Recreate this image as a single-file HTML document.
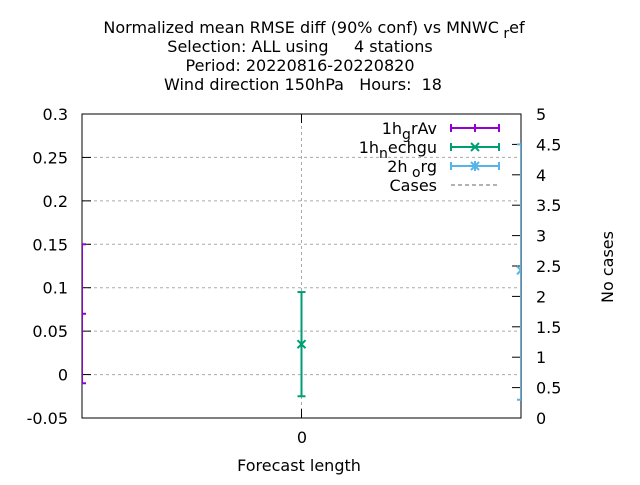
<!DOCTYPE html>
<html><head><meta charset="utf-8"><style>
body{margin:0;background:#fff}
text{font-family:"DejaVu Sans","Liberation Sans",sans-serif;font-size:16px;fill:#000}
</style></head><body>
<svg width="640" height="480">
<defs><clipPath id="pc"><rect x="82" y="114" width="439" height="304"/></clipPath></defs>
<g>
<text x="314" y="33" text-anchor="middle">Normalized mean RMSE diff (90% conf) vs MNWC<tspan dy="5" font-size="14"> r</tspan><tspan dy="-5">ef</tspan></text>
<text x="300" y="52" text-anchor="middle" xml:space="preserve">Selection: ALL using     4 stations</text>
<text x="300" y="71" text-anchor="middle">Period: 20220816-20220820</text>
<text x="303" y="90" text-anchor="middle" xml:space="preserve">Wind direction 150hPa   Hours:  18</text>
</g>
<g id="grid"></g>
<rect x="82" y="114" width="439" height="304" fill="none" stroke="#000"/>
<g id="axes"></g>
<g id="series" clip-path="url(#pc)"></g>
<text x="302" y="443" text-anchor="middle">0</text>
<text x="299" y="471" text-anchor="middle">Forecast length</text>
<text transform="translate(613,267) rotate(-90)" text-anchor="middle">No cases</text>
<g>
<text x="437" y="134" text-anchor="end">1h<tspan dy="5" font-size="14">g</tspan><tspan dy="-5">rAv</tspan></text>
<text x="437" y="153" text-anchor="end">1h<tspan dy="5" font-size="14">n</tspan><tspan dy="-5">echgu</tspan></text>
<text x="437" y="172" text-anchor="end">2h<tspan dy="5" font-size="14"> o</tspan><tspan dy="-5">rg</tspan></text>
<text x="437" y="191" text-anchor="end">Cases</text>
<g stroke="#9400d3" stroke-width="2"><line x1="451" y1="128" x2="499" y2="128"/><line x1="451" y1="124" x2="451" y2="132"/><line x1="499" y1="124" x2="499" y2="132"/><line x1="475" y1="124" x2="475" y2="132"/></g>
<g stroke="#009e73" stroke-width="2"><line x1="451" y1="147" x2="499" y2="147"/><line x1="451" y1="143" x2="451" y2="151"/><line x1="499" y1="143" x2="499" y2="151"/><path d="M471 143l8 8M479 143l-8 8"/></g>
<g stroke="#56b4e9" stroke-width="2"><line x1="451" y1="166" x2="499" y2="166"/><line x1="451" y1="162" x2="451" y2="170"/><line x1="499" y1="162" x2="499" y2="170"/><path d="M471 162l8 8M479 162l-8 8M475 161v10"/></g>
<line x1="451" y1="185" x2="499" y2="185" stroke="#999" stroke-dasharray="4,3" stroke-width="1.5"/>
</g>
</svg>
<script>
const yTicks=[-0.05,0,0.05,0.1,0.15,0.2,0.25,0.3];
const y2Ticks=[0,0.5,1,1.5,2,2.5,3,3.5,4,4.5,5];
const seriesNames=["1h_grAv","1h_nechgu","2h_org"];
const seriesX=[-1,0,1];
const seriesMean=[0.07,0.035,0.12];
const seriesLow=[-0.01,-0.025,-0.029];
const seriesHigh=[0.15,0.095,0.265];
const colors=["#9400d3","#009e73","#56b4e9"];
const NS="http://www.w3.org/2000/svg";
const X0=82,X1=521,Y0=418,Y1=114;
const xs=v=>X0+(v+1)/2*(X1-X0);
const ys=v=>Y0-(v+0.05)/0.35*(Y0-Y1);
const ys2=v=>Y0-v/5*(Y0-Y1);
function mk(t,a,p){const e=document.createElementNS(NS,t);for(const k in a)e.setAttribute(k,a[k]);p.appendChild(e);return e;}
const grid=document.getElementById('grid'),axes=document.getElementById('axes'),ser=document.getElementById('series');
yTicks.forEach(v=>{const y=ys(v);
 const g=mk('line',{x1:X0,x2:X1,y1:y,y2:y,stroke:'#aaa','stroke-dasharray':'3,3'},grid);
 
 
 mk('line',{x1:X0,x2:X0+9,y1:y,y2:y,stroke:'#000'},axes);
 const t=mk('text',{x:68,y:y+6,'text-anchor':'end'},axes);t.textContent=String(v);
 
 
});
const vg=mk('line',{x1:xs(0),x2:xs(0),y1:Y1,y2:Y0,stroke:'#aaa','stroke-dasharray':'3,3'},grid);


mk('line',{x1:xs(0),x2:xs(0),y1:Y0,y2:Y0-9,stroke:'#000'},axes);
mk('line',{x1:xs(0),x2:xs(0),y1:Y1,y2:Y1+9,stroke:'#000'},axes);
y2Ticks.forEach(v=>{const y=ys2(v);
 mk('line',{x1:X1-9,x2:X1,y1:y,y2:y,stroke:'#000'},axes);
 const t=mk('text',{x:536,y:y+6},axes);t.textContent=String(v);
 
 
});
seriesMean.forEach((m,i)=>{
 const g=mk('g',{stroke:colors[i],'stroke-width':2},ser);
 
 
 const x=xs(seriesX[i]),yl=ys(seriesLow[i]),yh=ys(seriesHigh[i]),ym=ys(m);
 mk('line',{x1:x,x2:x,y1:yl,y2:yh},g);
 mk('line',{x1:x-4,x2:x+4,y1:yl,y2:yl},g);
 mk('line',{x1:x-4,x2:x+4,y1:yh,y2:yh},g);
 if(i==0) mk('line',{x1:x-4,x2:x+4,y1:ym,y2:ym},g);
 else{mk('path',{d:`M${x-4} ${ym-4}l8 8M${x+4} ${ym-4}l-8 8`+(i==2?`M${x} ${ym-5}v10`:'')},g);}
});
</script>
</body></html>
